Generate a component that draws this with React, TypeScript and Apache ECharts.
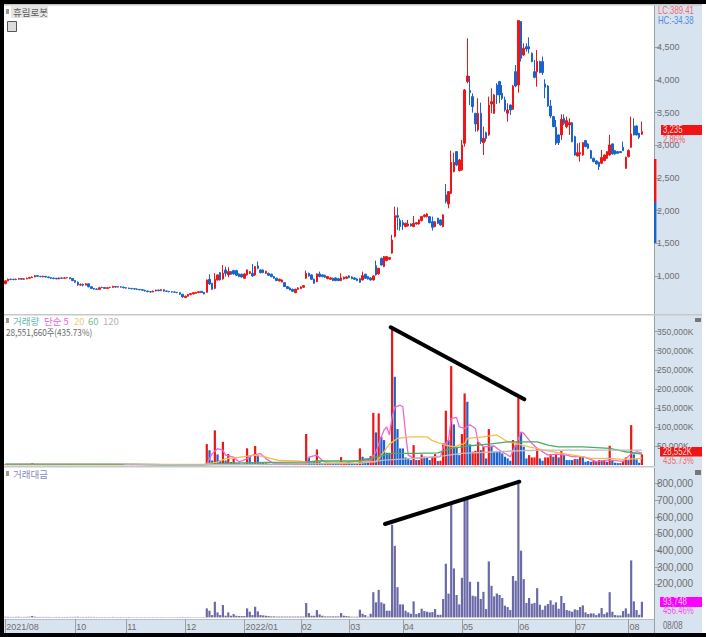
import React, { useEffect, useRef } from "react";
import * as echarts from "echarts";

const opens = [
  880,925,950,950,945,950,960,950,955,965,
  975,985,1005,995,985,995,985,975,968,965,
  955,970,965,970,975,960,930,905,860,870,
  860,880,835,810,800,795,820,825,810,820,
  825,840,830,835,830,820,815,810,805,800,
  795,790,780,770,760,755,770,785,775,790,
  770,765,760,755,750,745,720,670,690,715,
  725,735,745,765,750,750,949,888,811,939,
  1051,954,1092,1016,1067,1082,1082,1031,1026,965,
  1016,1041,1041,1016,1153,1092,1092,1041,1041,1026,
  990,965,924,908,898,837,817,796,745,796,
  806,827,965,1041,1016,949,913,1031,1016,1010,
  959,949,965,970,959,929,954,965,1000,985,
  970,954,959,939,1026,990,970,939,1158,1031,
  1270,1143,1235,1255,1350,1602,1923,1847,1816,1755,
  1765,1796,1755,1796,1796,1847,1908,1908,1908,1831,
  1755,1883,1857,1755,2240,2102,2265,2597,2903,2612,
  2622,3030,3974,3836,3744,3489,3234,3489,3040,3193,
  3158,3632,3489,3922,3974,3795,3693,3489,3616,3550,
  4126,3922,4892,4381,4509,4509,4407,4126,4126,4280,
  4280,3938,3907,3601,3438,3275,3158,3158,3413,3285,
  3310,3346,3132,2836,2867,2851,3071,3020,2918,2801,
  2760,2739,2724,2765,2801,2851,3020,2918,2903,2903,
  2969,2647,2826,2969,3295,3295,3183,3168,
];
const closes = [
  925,950,945,945,950,960,950,955,965,975,
  985,1005,995,990,995,985,975,965,960,955,
  970,965,970,975,960,930,905,865,870,860,
  880,835,810,800,795,820,825,810,820,825,
  840,830,835,830,820,815,810,805,800,795,
  790,780,770,760,755,770,785,775,790,770,
  765,760,755,750,745,720,680,690,715,730,
  745,750,760,745,725,939,878,796,949,1016,
  939,1041,1041,1067,1026,1031,1010,990,985,1031,
  1092,1067,1000,1143,1117,1051,1051,1072,1010,990,
  965,929,949,939,837,806,786,766,796,817,
  832,852,1041,1000,949,888,1031,990,990,980,
  990,970,929,929,929,970,980,985,975,959,
  949,929,903,1005,965,954,939,1000,1016,1117,
  1168,1296,1296,1281,1551,1923,1898,1755,1780,1806,
  1796,1765,1806,1816,1857,1908,1934,1949,1816,1745,
  1831,1806,1780,1934,2138,2291,2739,2739,2698,2775,
  3005,3846,4060,3805,3591,3326,3489,3056,3106,3106,
  3616,3667,3770,3770,3770,3719,3540,3540,3540,3907,
  3907,4907,4331,4483,4473,4473,4280,4040,4280,4111,
  4111,3887,3601,3448,3285,3030,3040,3397,3336,3377,
  3346,3056,2851,2887,2887,3040,2979,2953,2801,2750,
  2714,2673,2811,2851,2903,3005,2867,2867,2877,2887,
  2918,2816,2918,3173,3158,3158,3122,3209,
];
const lows = [
  875,920,935,935,935,945,945,940,950,960,
  970,980,985,980,980,975,965,955,950,950,
  950,955,955,965,950,920,895,850,850,840,
  855,825,800,790,785,790,815,800,805,815,
  820,820,825,820,810,805,800,795,790,785,
  780,770,760,750,745,750,765,765,770,760,
  755,750,745,740,735,710,665,660,685,705,
  720,730,740,740,720,745,862,790,796,930,
  930,945,990,980,1015,1020,1000,980,975,955,
  1005,1030,990,1000,1102,1040,1040,1030,1000,980,
  955,920,915,900,830,800,780,755,735,790,
  800,820,955,990,940,880,905,980,980,970,
  950,940,920,920,920,920,945,955,965,950,
  940,920,895,930,955,945,930,930,1005,1020,
  1160,1135,1225,1245,1340,1590,1704,1694,1704,1745,
  1755,1755,1745,1785,1785,1835,1895,1895,1805,1694,
  1745,1795,1770,1745,2112,2035,2255,2585,2680,2600,
  2610,2979,3948,3616,3499,3209,3209,3020,2851,3056,
  3145,3489,3480,3632,3642,3693,3515,3362,3464,3540,
  3887,3805,4280,4366,4433,4407,4270,4024,3897,4100,
  4075,3719,3590,3413,3275,3005,3005,3081,3310,3260,
  3158,3045,2840,2826,2750,2840,2970,2940,2790,2740,
  2705,2622,2715,2755,2790,2840,2855,2855,2870,2880,
  2910,2640,2815,2960,3150,3150,3095,3160,
];
const highs = [
  935,960,960,955,960,970,965,965,975,985,
  995,1015,1010,1000,1005,1000,990,980,975,970,
  975,975,980,985,980,965,935,915,885,885,
  890,885,840,815,810,825,835,830,830,835,
  850,845,845,840,835,825,820,815,810,810,
  800,795,790,775,770,775,790,790,800,795,
  775,770,765,760,755,750,725,700,725,740,
  750,755,765,770,755,945,1026,895,1041,1025,
  1060,1168,1143,1133,1075,1095,1095,1040,1035,1040,
  1100,1075,1184,1150,1220,1100,1100,1080,1050,1035,
  1000,975,960,945,905,845,825,805,805,825,
  840,860,1082,1050,1025,960,1040,1067,1025,1020,
  1000,980,975,980,970,1041,990,995,1010,995,
  980,965,970,1067,1035,1000,980,1010,1235,1125,
  1280,1305,1305,1290,1628,2061,2051,1883,1857,1815,
  1857,1805,1918,1825,1865,1915,1945,1960,1915,1908,
  1840,1890,1865,1945,2408,2300,2918,2887,2910,2790,
  3081,3860,4637,4060,3795,3495,3719,3652,3285,3209,
  3744,3871,3785,3948,3985,3922,3744,3642,3625,3920,
  4228,4915,4900,4560,4560,4652,4420,4305,4458,4295,
  4356,4009,3920,3693,3450,3387,3170,3474,3474,3438,
  3413,3355,3145,3030,3040,3050,3080,3030,2930,2810,
  2770,2750,2928,2860,2910,3158,3030,2930,2910,2910,
  3056,2825,2938,3438,3413,3305,3190,3362,
];

// trading volume, in thousands of shares
const volumes = [
  1800,1500,1200,1300,1400,1600,1200,1300,1500,2000,
  5000,1800,1300,1200,1400,1300,1200,1100,1000,1200,
  1200,1000,1100,1200,1300,1500,1600,1800,1500,1300,
  1400,1600,1500,1300,1200,1200,1000,1100,1000,1000,
  1200,1100,1000,1000,900,900,800,800,800,900,
  900,800,800,900,800,800,900,900,800,800,
  900,800,800,900,1000,1200,1500,1300,1200,1000,
  900,900,800,800,900,55000,39000,12000,91000,28000,
  12000,61000,12000,29000,8000,17000,6000,5000,4000,5000,
  44000,25000,8000,50000,25000,8000,6000,5000,4000,3000,
  3000,3000,2500,2500,3000,3000,2500,2500,3000,2500,
  2500,2500,81500,20000,8000,8000,41000,9000,5000,4000,
  3000,3000,3000,3000,3000,21000,6000,5000,8700,6100,
  4400,2600,43700,21900,17500,17500,23600,137000,85700,135500,
  74300,65500,32300,32300,355700,231600,94400,43700,43700,20100,
  17500,13100,52400,13100,13100,28000,21900,20100,13100,21900,
  28800,10500,11400,56800,142500,65500,259600,106600,48000,26200,
  81300,187900,166100,54200,35000,37600,61200,39300,48100,17500,
  94400,50700,35000,36700,36700,30600,21900,17500,11400,65500,
  52400,176500,85700,48100,17500,26200,20100,20100,43700,17500,
  11400,20100,20100,28000,21900,28000,20100,36700,26200,13100,
  13100,13100,15700,15700,21900,23600,8700,10500,8700,11400,
  8700,13100,11400,13100,8700,50700,13100,6100,5200,5200,
  11400,20100,13100,104900,28000,14900,6100,28000,
];
const volumeDirs =
  "RRBBRRBRRR" + "RRBBRBBBBB" + "RBRRBBBBRB" + "RBBBBRRBRR" + "RBRBBBBBBB" +
  "BBBBBRRBRB" + "BBBBBBBRRR" + "RRRBBRBBRB" + "BRBRBRBBBR" + "RBBRBBBRBB" +
  "BBRRBBBBRR" + "RRRBBBRBBB" + "RRBBBRRRBB" + "BRRBBBRRBR" + "BBBBRBBBBB" +
  "BBRBRRBBBR" + "RBRRRBRBBB" + "RRBBRRRBRB" + "RBBBBBBBBR" + "BRBBBRRRRB" +
  "BRRRBRBRBB" + "BBRBRBBBBR" + "BRBRBRBBBB" + "RRBRBBBR";

// trading value
const turnovers = [
  4000,3500,3000,3000,3500,4000,3000,3000,3500,4500,
  9000,4000,3000,3000,3000,3000,3000,2500,2500,3000,
  3000,2500,2500,3000,3000,3000,3500,4000,3000,3000,
  3000,3500,3000,3000,2500,2500,2500,2500,2500,2500,
  3000,2500,2500,2500,2000,2000,2000,2000,2000,2000,
  2000,2000,2000,2000,2000,2000,2000,2000,2000,2000,
  2000,2000,2000,2000,2000,2500,3000,2500,2500,2000,
  2000,2000,2000,2000,2000,54000,40000,14000,94000,30000,
  14000,74000,10000,30000,10000,20000,10000,8000,8000,8000,
  54000,34000,14000,64000,36000,14000,12000,10000,8000,6000,
  6000,5000,5000,5000,5000,5000,5000,5000,5000,5000,
  5000,5000,86000,26000,10000,10000,44000,18000,10000,6000,
  6000,6000,6000,6000,6000,26000,10000,8000,6000,4000,
  4000,4000,46000,22000,14000,4000,22000,151000,90000,165000,
  90000,82000,40000,40000,554000,428000,181000,78000,78000,40000,
  30000,22000,96000,20000,26000,52000,38000,34000,30000,32000,
  50000,16000,16000,110000,321000,142000,674000,293000,134000,78000,
  237000,700000,707000,213000,130000,126000,213000,110000,153000,50000,
  335000,189000,126000,143000,134000,116000,70000,62000,44000,247000,
  219000,807000,399000,229000,86000,116000,82000,86000,175000,76000,
  46000,70000,80000,102000,76000,90000,52000,128000,86000,44000,
  40000,34000,48000,44000,62000,72000,30000,20000,24000,24000,
  14000,24000,56000,20000,30000,151000,34000,14000,12000,12000,
  38000,54000,22000,341000,96000,44000,16000,93748,
];

// moving averages of volume, read at the points where each curve bends: [bar index, value]
const ma5Points = [
  [0,1500],[40,1400],[74,1200],[75,3500],[77,30000],[79,43000],[81,39000],[82,26000],[85,21000],[87,8000],
  [90,17000],[92,26000],[95,30000],[97,17000],[100,3500],[112,3500],[113,21000],[116,26000],[118,12000],
  [120,5000],[126,3500],[128,8700],[136,13000],[138,35000],[140,74000],[141,92000],[142,100000],[143,79000],
  [144,127000],[145,152000],[147,157000],[148,153000],[149,83000],[150,26000],[152,17500],[156,20000],
  [159,20000],[162,22000],[163,48000],[165,65500],[166,122000],[168,125000],[169,100000],[171,96000],
  [173,106000],[175,96000],[176,61000],[178,48000],[182,50000],[184,39000],[188,22000],[190,52000],
  [192,87000],[193,83000],[196,57000],[198,44000],[202,26000],[205,29000],[209,26000],[211,22000],
  [215,22000],[220,9000],[224,13000],[226,13000],[230,9000],[233,30000],[235,35000],[237,32000],
];
const ma20Points = [
  [0,1700],[74,1500],[79,8000],[82,17000],[87,20000],[93,26000],[97,21000],[102,12000],[110,10000],[112,8000],
  [118,10000],[122,5000],[128,8700],[138,8700],[141,35000],[143,55000],[146,70000],[151,74000],[157,74000],
  [159,64000],[164,52000],[167,48000],[171,57000],[172,70000],[178,74000],[183,79000],[187,61000],[190,57000],
  [195,48000],[202,37000],[208,30000],[213,24000],[218,17500],[225,17500],[230,15000],[237,17500],
];
const ma60Points = [
  [0,2700],[43,2700],[59,900],[74,900],[85,5300],[97,7100],[112,8000],[116,10700],[132,10700],[141,26000],
  [144,30600],[153,30600],[161,32000],[166,43700],[172,50000],[180,55000],[187,61000],[198,61000],[202,52400],
  [206,48000],[215,48000],[225,43700],[231,35000],[237,29000],
];
const ma120Points = [
  [44,2500],[60,1000],[74,900],[132,4400],[141,13000],[153,17500],[163,24000],[170,30600],[183,35000],
  [191,37600],[201,39300],[237,39300],
];

const priceTicks = [1000, 1500, 2000, 2500, 3000, 3500, 4000, 4500];
const volumeTicks = [50000, 100000, 150000, 200000, 250000, 300000, 350000];
const turnoverTicks = [200000, 300000, 400000, 500000, 600000, 700000, 800000];

const monthIndexes = [0, 26, 45, 67, 89, 110, 128, 148, 170, 191, 212, 232];
const monthLabels = ["2021/08", "10", "11", "12", "2022/01", "02", "03", "04", "05", "06", "07", "08"];
const BAR_SLOTS = 242;

const RED = "#f01414";
const BLUE = "#1a62cc";
const PURPLE = "#6a6aa8";
const PANEL = "#d8e3f0";
const AXIS = "#9aa0a8";
const LABEL = "#6e6e6e";
const NUM_FAMILY = '"Liberation Sans", sans-serif';
const NUM_FONT = '10px "Liberation Sans", sans-serif';
const KR_FONT = '9.5px "Noto Sans CJK KR", sans-serif';

const fmt = (v: number) => Math.round(v).toLocaleString("en-US");

function App() {
  const ref = useRef<HTMLDivElement>(null);

  useEffect(() => {
    document.body.style.margin = "0";
    const chart = echarts.init(ref.current!, undefined, { renderer: "svg" });
    const categories = Array.from({ length: BAR_SLOTS }, (_, i) => {
      const m = monthIndexes.indexOf(i);
      return m >= 0 ? monthLabels[m] : "";
    });
    const candles = opens.map((o, i) => [o, closes[i], lows[i], highs[i]]);
    const isMonth = (i: number) => monthIndexes.includes(i);

    const rect = (x: number, y: number, w: number, h: number, fill: string, z = 40, extra: any = {}) => ({
      type: "rect", z, silent: true, shape: { x, y, width: w, height: h }, style: { fill, ...extra },
    });
    const text = (x: number, y: number, t: string, fill: string, font = NUM_FONT, scaleX = 0.78) => ({
      type: "text", z: 60, silent: true, x, y, scaleX,
      style: { text: t, fill, font, verticalAlign: "middle", align: "left" },
    });
    const kr = (x: number, y: number, t: string, fill: string, scaleX = 1) => text(x, y, t, fill, KR_FONT, scaleX);
    const stroke = (x1: number, y1: number, x2: number, y2: number) => ({
      type: "line", z: 70, silent: true, shape: { x1, y1, x2, y2 },
      style: { stroke: "#000", lineWidth: 4, lineCap: "round" },
    });

    const yAxisBase = (gridIndex: number, min: number, max: number, ticks: number[], suffix: string, size: number) => ({
      type: "value", gridIndex, position: "right", min, max,
      splitLine: { show: false },
      axisLine: { show: true, onZero: false, lineStyle: { color: AXIS, width: 1 } },
      axisTick: { show: true, length: 6, inside: false, customValues: ticks, lineStyle: { color: AXIS } },
      axisLabel: {
        show: true, margin: 3, color: LABEL, fontSize: size, fontFamily: NUM_FAMILY,
        customValues: ticks, formatter: (v: number) => fmt(v) + suffix,
      },
    });
    const xAxisBase = (gridIndex: number, visible: boolean) => ({
      type: "category", gridIndex, data: categories, boundaryGap: true,
      axisLine: { show: visible, onZero: false, lineStyle: { color: "#b8bec6" } },
      splitLine: { show: false },
      axisTick: { show: visible, alignWithLabel: true, length: 14, interval: (i: number) => isMonth(i), lineStyle: { color: AXIS } },
      axisLabel: {
        show: visible, interval: (i: number) => isMonth(i), margin: 3, align: "left", padding: [0, 0, 0, 1],
        color: LABEL, fontSize: 9, fontFamily: NUM_FAMILY,
      },
    });
    const maLine = (name: string, data: number[][], color: string) => ({
      name, type: "line", xAxisIndex: 1, yAxisIndex: 1, data, symbol: "none", smooth: false, z: 5,
      lineStyle: { color, width: 1.3 }, silent: true,
    });

    chart.setOption({
      animation: false,
      backgroundColor: "#fff",
      grid: [
        { left: 4, width: 650, top: 5, height: 309 },
        { left: 4, width: 650, top: 315, height: 151 },
        { left: 4, width: 650, top: 468, height: 151 },
      ],
      xAxis: [xAxisBase(0, false), xAxisBase(1, false), xAxisBase(2, true)],
      yAxis: [
        yAxisBase(0, 418, 5146, priceTicks, "", 9),
        yAxisBase(1, -2400, 393600, volumeTicks, "K", 8.5),
        yAxisBase(2, -9500, 893700, turnoverTicks, "", 10),
      ],
      series: [
        {
          name: "휴림로봇", type: "candlestick", xAxisIndex: 0, yAxisIndex: 0, data: candles, barWidth: 2,
          itemStyle: { color: RED, color0: BLUE, borderColor: RED, borderColor0: BLUE, borderWidth: 1 },
        },
        {
          name: "거래량", type: "bar", xAxisIndex: 1, yAxisIndex: 1, barWidth: 2.2,
          data: volumes.map((v, i) => ({ value: v, itemStyle: { color: volumeDirs[i] === "R" ? RED : BLUE } })),
        },
        maLine("단순 5", ma5Points, "#ee66d8"),
        maLine("20", ma20Points, "#f5bc4a"),
        maLine("60", ma60Points, "#48ad62"),
        maLine("120", ma120Points, "#bcbcbc"),
        {
          name: "거래대금", type: "bar", xAxisIndex: 2, yAxisIndex: 2, barWidth: 2.2,
          data: turnovers, itemStyle: { color: PURPLE },
        },
      ],
      graphic: [
        // side column and date strip, behind the axes
        rect(655, 5, 47, 628, PANEL, -1),
        rect(4, 619, 698, 14, PANEL, -1),
        rect(702, 5, 4, 628, "#fff", -1),
        // frame
        rect(0, 0, 706, 4, "#000", 80),
        rect(0, 0, 4, 637, "#000", 80),
        rect(0, 633, 706, 4, "#000", 80),
        rect(4, 4, 698, 1.5, "#c4c4c4", 20),
        rect(4, 314, 698, 1.5, "#c8c8c8", 20),
        rect(4, 466, 650, 1.5, "#c8c8c8", 20),
        // today's range strip
        rect(654, 159, 2.4, 43, RED, 30),
        rect(654, 202, 2.4, 41, BLUE, 30),
        // header of the price panel
        rect(6, 9, 3, 5, "#9a9a9a", 40),
        rect(11, 6, 37, 12, "#e6e6e6", 40),
        kr(13, 12, "휴림로봇", "#5c5c5c"),
        rect(7.5, 21.5, 9, 10, "#dcdcdc", 40, { stroke: "#555", lineWidth: 1 }),
        text(658, 11, "LC:389.41", "#ec6a6a"),
        text(658, 21, "HC:-34.38", "#4f8ae4"),
        // last price marker
        rect(661, 125, 41, 10, RED, 50),
        text(663, 130, "3,235", "#ffd8d8"),
        text(663, 140, "2.86%", "#f25a5a"),
        // header of the volume panel
        rect(6, 318, 3, 5, "#9a9a9a", 40),
        kr(13, 321, "거래량", "#68b8b0"),
        kr(44, 321, "단순 5", "#e468d4"),
        kr(74, 321, "20", "#f2c878"),
        kr(88, 321, "60", "#78bc90"),
        kr(103, 321, "120", "#b4b4b4"),
        kr(6, 332, "28,551,660주(435.73%)", "#6a6a6a", 0.86),
        rect(695, 318, 6, 4, "#777", 40),
        // volume marker
        rect(660, 447, 42, 9.5, RED, 50),
        text(663, 452, "28,552K", "#ffd8d8"),
        text(663, 461, "435.73%", "#f26a6a"),
        // header of the value panel
        rect(6, 471, 3, 5, "#9a9a9a", 40),
        kr(13, 474, "거래대금", "#8a8abc"),
        rect(695, 470, 6, 5, "#777", 40),
        // value marker
        rect(660, 597, 42, 10, "#ff00ff", 50),
        text(663, 602, "93,748", "#ffd0ff"),
        text(663, 611, "456.46%", "#f050f0"),
        // date corner label
        rect(654, 619, 1, 14, AXIS, 45),
        text(663, 626, "08/08", LABEL),
        // hand-drawn trend lines
        stroke(390.7, 327.3, 524.3, 399.3),
        stroke(385, 524, 519.3, 481.7),
      ],
    });
    return () => chart.dispose();
  }, []);

  return <div ref={ref} style={{ width: 706, height: 637 }} />;
}

export default App;
